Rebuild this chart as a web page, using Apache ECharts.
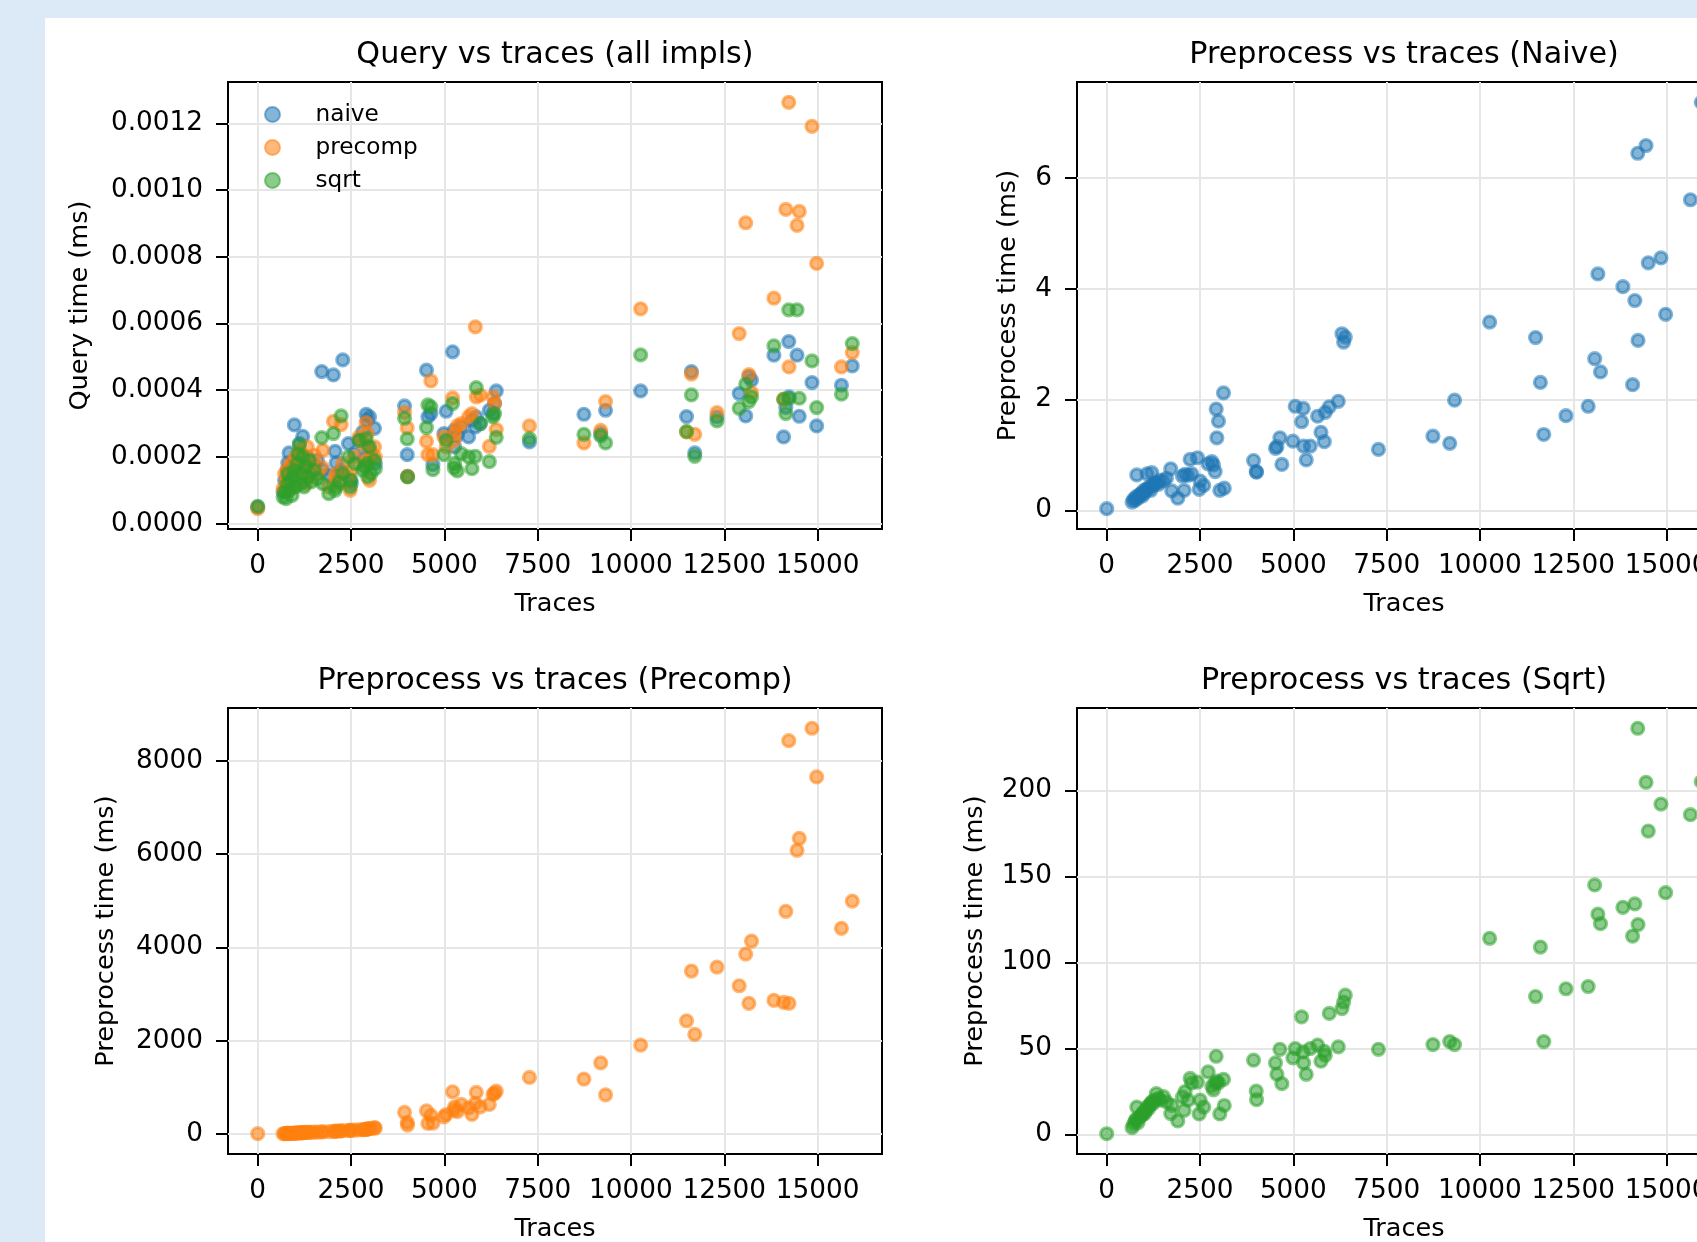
<!DOCTYPE html>
<html>
<head>
<meta charset="utf-8">
<title>Query and preprocess vs traces</title>
<script src="https://cdn.jsdelivr.net/npm/echarts@6/dist/echarts.min.js"></script>
<style>
  html, body { margin: 0; padding: 0; overflow: hidden; }
  body { width: 1697px; height: 1242px; background: #dce9f6; position: relative; }
  #panel { position: absolute; left: 45px; top: 18px; width: 1760px; height: 1240px; background: #ffffff; }
  #chart { width: 1760px; height: 1240px; }
</style>
</head>
<body>
<div id="panel"><div id="chart"></div></div>
<script>
// number of traces for each run (shared by all four plots)
const traces = [
  0, 680, 720, 760, 790, 805, 840, 880, 920, 960,
  982, 1010, 1050, 1080, 1117, 1150, 1180, 1206, 1240, 1280,
  1330, 1386, 1430, 1520, 1600, 1715, 1743, 1904, 2028, 2074,
  2100, 2180, 2235, 2278, 2431, 2477, 2503, 2600, 2717, 2816,
  2905, 2933, 2950, 2995, 3030, 3129, 3150, 2860, 3934, 4006,
  4015, 4522, 4560, 4640, 4693, 4988, 5050, 5221, 5266, 5275,
  5346, 5454, 5650, 5740, 5830, 5856, 5963, 6205, 6303, 6347,
  6392, 7280, 8740, 9190, 9320, 10260, 11490, 11620, 11710, 12305,
  12900, 13075, 13160, 13230, 13830, 14090, 14150, 14228, 14235, 14450,
  14510, 14850, 14975, 15640, 15930
];

// preprocess time (ms)
const naivePre = [
  0.03, 0.15, 0.20, 0.18, 0.25, 0.64, 0.22, 0.28, 0.30, 0.26,
  0.35, 0.32, 0.38, 0.66, 0.40, 0.42, 0.36, 0.68, 0.45, 0.48,
  0.50, 0.47, 0.54, 0.53, 0.58, 0.75, 0.35, 0.22, 0.62, 0.36,
  0.65, 0.63, 0.92, 0.66, 0.95, 0.38, 0.53, 0.45, 0.84, 0.88,
  0.70, 1.83, 1.31, 1.61, 0.36, 2.12, 0.40, 0.82, 0.90, 0.70,
  0.69, 1.12, 1.15, 1.31, 0.83, 1.25, 1.88, 1.60, 1.84, 1.16,
  0.91, 1.16, 1.70, 1.41, 1.24, 1.77, 1.87, 1.97, 3.19, 3.04,
  3.13, 1.10, 1.34, 1.21, 1.99, 3.40, 3.12, 2.31, 1.37, 1.71,
  1.88, 2.74, 4.27, 2.50, 4.04, 2.27, 3.79, 6.45, 3.07, 6.59,
  4.47, 4.56, 3.54, 5.61, 7.37
];
const precompPre = [
  10, 8, 10, 12, 14, 20, 12, 15, 16, 18,
  20, 22, 24, 25, 26, 28, 30, 30, 32, 35,
  36, 38, 40, 42, 44, 48, 50, 54, 58, 60,
  62, 66, 70, 72, 78, 80, 82, 86, 90, 95,
  100, 105, 110, 115, 120, 140, 130, 98, 465, 250,
  193, 500, 228, 400, 236, 371, 420, 907, 514, 585,
  480, 636, 560, 421, 657, 893, 585, 636, 850, 880,
  920, 1214, 1179, 1528, 842, 1907, 2428, 3493, 2136, 3579,
  3178, 3857, 2801, 4136, 2865, 2820, 4772, 8429, 2801, 6080,
  6337, 8694, 7651, 4408, 4993
];
const sqrtPre = [
  0.5, 4, 6, 8, 9, 16, 7, 10, 11, 12,
  13, 12, 14, 16, 15, 17, 18, 19, 18, 20,
  23.8, 21, 20, 22, 19, 12.2, 17, 7.9, 21.9, 14.1,
  25, 20, 32.6, 30, 30.5, 12, 20, 16, 36.4, 28,
  29.8, 45.5, 31, 30, 12, 32.1, 16.9, 26, 43.2, 25.2,
  20.3, 41.6, 35.1, 49.5, 29.6, 44.6, 50, 68.4, 48, 41.6,
  35, 50, 52, 42.6, 48.4, 46, 70.4, 51, 73.2, 77,
  81, 49.5, 52.3, 54, 52.3, 114, 80.2, 108.9, 54, 84.7,
  86, 145, 128, 122.5, 132, 115.3, 134, 236, 122, 204.6,
  176.3, 192, 140.5, 185.8, 205
];

// query time (ms)
const naiveQuery = [
  0.000050, 0.000095, 0.000130, 0.000110, 0.000160, 0.000182, 0.000212, 0.000140, 0.000170, 0.000120,
  0.000296, 0.000190, 0.000150, 0.000175, 0.000240, 0.000160, 0.000205, 0.000262, 0.000130, 0.000185,
  0.000200, 0.000165, 0.000150, 0.000175, 0.000190, 0.000456, 0.000160, 0.000145, 0.000446, 0.000217,
  0.000182, 0.000150, 0.000160, 0.000491, 0.000240, 0.000130, 0.000120, 0.000210, 0.000250, 0.000275,
  0.000328, 0.000310, 0.000230, 0.000320, 0.000200, 0.000286, 0.000180, 0.000195, 0.000353, 0.000207,
  0.000142, 0.000460, 0.000320, 0.000330, 0.000177, 0.000270, 0.000337, 0.000515, 0.000280, 0.000230,
  0.000265, 0.000290, 0.000260, 0.000310, 0.000290, 0.000320, 0.000300, 0.000340, 0.000330, 0.000360,
  0.000398, 0.000245, 0.000328, 0.000270, 0.000340, 0.000398, 0.000321, 0.000456, 0.000212, 0.000320,
  0.000390, 0.000323, 0.000441, 0.000430, 0.000505, 0.000260, 0.000348, 0.000546, 0.000380, 0.000505,
  0.000322, 0.000423, 0.000293, 0.000415, 0.000473
];
const precompQuery = [
  0.000045, 0.000105, 0.000150, 0.000120, 0.000135, 0.000165, 0.000100, 0.000180, 0.000125, 0.000110,
  0.000150, 0.000200, 0.000130, 0.000170, 0.000220, 0.000145, 0.000210, 0.000190, 0.000160, 0.000120,
  0.000230, 0.000140, 0.000180, 0.000205, 0.000150, 0.000170, 0.000220, 0.000110, 0.000307, 0.000135,
  0.000150, 0.000120, 0.000297, 0.000180, 0.000140, 0.000100, 0.000160, 0.000200, 0.000260, 0.000240,
  0.000303, 0.000270, 0.000190, 0.000130, 0.000215, 0.000230, 0.000200, 0.000175, 0.000333, 0.000287,
  0.000142, 0.000247, 0.000207, 0.000428, 0.000207, 0.000260, 0.000230, 0.000377, 0.000250, 0.000270,
  0.000293, 0.000300, 0.000320, 0.000330, 0.000590, 0.000380, 0.000385, 0.000232, 0.000380, 0.000360,
  0.000282, 0.000293, 0.000242, 0.000280, 0.000366, 0.000644, 0.000275, 0.000448, 0.000268, 0.000333,
  0.000570, 0.000902, 0.000447, 0.000393, 0.000676, 0.000373, 0.000942, 0.001263, 0.000470, 0.000894,
  0.000936, 0.001191, 0.000780, 0.000470, 0.000513
];
const sqrtQuery = [
  0.000052, 0.000080, 0.000095, 0.000075, 0.000120, 0.000150, 0.000100, 0.000130, 0.000085, 0.000140,
  0.000160, 0.000110, 0.000180, 0.000210, 0.000237, 0.000120, 0.000150, 0.000200, 0.000110, 0.000170,
  0.000140, 0.000190, 0.000125, 0.000160, 0.000135, 0.000258, 0.000120, 0.000090, 0.000270, 0.000100,
  0.000110, 0.000125, 0.000323, 0.000150, 0.000200, 0.000110, 0.000130, 0.000180, 0.000250, 0.000160,
  0.000255, 0.000180, 0.000140, 0.000230, 0.000150, 0.000190, 0.000165, 0.000170, 0.000316, 0.000254,
  0.000140, 0.000288, 0.000356, 0.000350, 0.000162, 0.000207, 0.000250, 0.000360, 0.000167, 0.000180,
  0.000158, 0.000210, 0.000200, 0.000165, 0.000202, 0.000408, 0.000300, 0.000186, 0.000320, 0.000330,
  0.000259, 0.000255, 0.000268, 0.000263, 0.000242, 0.000506, 0.000276, 0.000386, 0.000202, 0.000308,
  0.000346, 0.000418, 0.000366, 0.000380, 0.000533, 0.000373, 0.000330, 0.000641, 0.000375, 0.000641,
  0.000376, 0.000488, 0.000348, 0.000388, 0.000540
];

// tick labels
const traceTicks = [0, 2500, 5000, 7500, 10000, 12500, 15000];
const queryTicks = [0, 0.0002, 0.0004, 0.0006, 0.0008, 0.0010, 0.0012];
const naiveTicks = [0, 2, 4, 6];
const precompTicks = [0, 2000, 4000, 6000, 8000];
const sqrtTicks = [0, 50, 100, 150, 200];

const FONT = "DejaVu Sans";
const TICK_SIZE = 26.3;
const BLUE = "#1f77b4";
const ORANGE = "#ff7f0e";
const GREEN = "#2ca02c";

// matplotlib style 5% margins around the data
function padded(values) {
  const lo = Math.min(...values);
  const hi = Math.max(...values);
  const span = hi - lo;
  return [lo - 0.05 * span, hi + 0.05 * span];
}

const grids = [
  { left: 183, top: 64, width: 654, height: 447 },
  { left: 1032, top: 64, width: 654, height: 447 },
  { left: 183, top: 690, width: 654, height: 446 },
  { left: 1032, top: 690, width: 654, height: 446 },
];

const [xMin, xMax] = padded(traces);

function xAxis(gridIndex) {
  return {
    type: "value",
    gridIndex,
    min: xMin,
    max: xMax,
    name: "Traces",
    nameLocation: "middle",
    nameGap: 62,
    nameTextStyle: { fontFamily: FONT, fontSize: 25.6, color: "#000" },
    axisLine: { show: false, onZero: false },
    axisTick: { show: true, length: 12, lineStyle: { color: "#000", width: 2 }, customValues: traceTicks },
    axisLabel: {
      customValues: traceTicks,
      margin: 24,
      fontFamily: FONT,
      fontSize: TICK_SIZE,
      color: "#000",
      formatter: (v) => String(v),
    },
    splitLine: { show: true, lineStyle: { color: "#e6e6e6", width: 2 } },
  };
}

function yAxis(gridIndex, values, ticks, nameGap, digits) {
  const [min, max] = padded(values);
  return {
    type: "value",
    gridIndex,
    min,
    max,
    name: gridIndex === 0 ? "Query time (ms)" : "Preprocess time (ms)",
    nameLocation: "middle",
    nameRotate: 90,
    nameGap,
    nameTextStyle: { fontFamily: FONT, fontSize: 25.6, color: "#000" },
    axisLine: { show: false, onZero: false },
    axisTick: { show: true, length: 12, lineStyle: { color: "#000", width: 2 }, customValues: ticks },
    axisLabel: {
      customValues: ticks,
      margin: 25,
      fontFamily: FONT,
      fontSize: TICK_SIZE,
      color: "#000",
      formatter: (v) => v.toFixed(digits),
    },
    splitLine: { show: true, lineStyle: { color: "#e6e6e6", width: 2 } },
  };
}

function scatter(name, color, index, ys) {
  return {
    type: "scatter",
    name,
    xAxisIndex: index,
    yAxisIndex: index,
    data: traces.map((t, i) => [t, ys[i]]),
    symbolSize: 12,
    itemStyle: { color, borderColor: color, borderWidth: 3.2, opacity: 0.55 },
    emphasis: { disabled: true },
    silent: true,
  };
}

function title(text, left, top) {
  return {
    text,
    left,
    top,
    textAlign: "center",
    padding: 0,
    textStyle: { fontFamily: FONT, fontSize: 30.2, fontWeight: "normal", color: "#000" },
  };
}

const chart = echarts.init(document.getElementById("chart"), null, { renderer: "canvas" });

const option = {
  animation: false,
  backgroundColor: "#ffffff",
  title: [
    title("Query vs traces (all impls)", 510, 22),
    title("Preprocess vs traces (Naive)", 1359, 22),
    title("Preprocess vs traces (Precomp)", 510, 648),
    title("Preprocess vs traces (Sqrt)", 1359, 648),
  ],
  legend: {
    data: ["naive", "precomp", "sqrt"],
    orient: "vertical",
    left: 219,
    top: 85,
    padding: 0,
    itemWidth: 76,
    itemHeight: 15,
    itemGap: 10,
    selectedMode: false,
    textStyle: { fontFamily: FONT, fontSize: 23.2, color: "#000" },
  },
  grid: grids.map((g) => ({
    ...g,
    show: true,
    borderColor: "#000",
    borderWidth: 2,
    backgroundColor: "transparent",
    containLabel: false,
    outerBoundsMode: "none",
  })),
  xAxis: [xAxis(0), xAxis(1), xAxis(2), xAxis(3)],
  yAxis: [
    yAxis(0, naiveQuery.concat(precompQuery, sqrtQuery), queryTicks, 135, 4),
    yAxis(1, naivePre, naiveTicks, 56, 0),
    yAxis(2, precompPre, precompTicks, 109, 0),
    yAxis(3, sqrtPre, sqrtTicks, 89, 0),
  ],
  series: [
    scatter("naive", BLUE, 0, naiveQuery),
    scatter("precomp", ORANGE, 0, precompQuery),
    scatter("sqrt", GREEN, 0, sqrtQuery),
    scatter("naive preprocess", BLUE, 1, naivePre),
    scatter("precomp preprocess", ORANGE, 2, precompPre),
    scatter("sqrt preprocess", GREEN, 3, sqrtPre),
  ],
};

chart.setOption(option);
</script>
</body>
</html>
